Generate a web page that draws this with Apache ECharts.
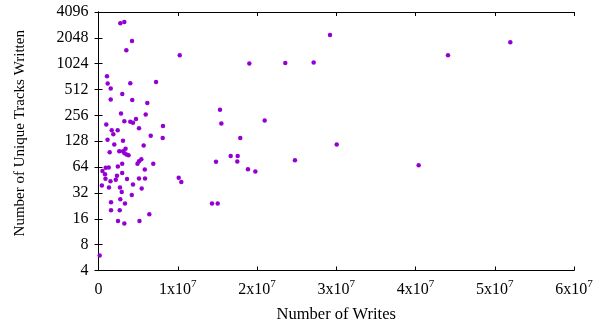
<!DOCTYPE html>
<html>
<head>
<meta charset="utf-8">
<style>
  html, body { margin: 0; padding: 0; background: #fff; }
  #chart { width: 606px; height: 326px; }
</style>
<script src="https://cdn.jsdelivr.net/npm/echarts@6/dist/echarts.min.js"></script>
</head>
<body>
<div id="chart"></div>
<script>
// Number of writes (x) and number of unique tracks written (y)
const writes = [
  2.75e6, 3.26e6, 4.23e6, 3.51e6, 10.25e6, 1.07e6, 1.16e6, 1.54e6, 4.01e6, 7.26e6,
  1.54e6, 3.00e6, 4.26e6, 6.16e6, 2.84e6, 5.96e6, 0.98e6, 3.26e6, 4.01e6, 4.35e6,
  4.73e6, 5.11e6, 8.14e6, 1.67e6, 1.87e6, 2.42e6, 6.59e6, 8.10e6, 1.14e6, 3.09e6,
  1.99e6, 5.70e6, 1.41e6, 2.62e6, 3.09e6, 3.41e6, 3.28e6, 3.53e6, 3.79e6, 5.40e6,
  5.11e6, 4.92e6, 6.91e6, 2.99e6, 2.44e6, 1.29e6, 0.91e6, 0.50e6, 0.82e6, 5.84e6,
  2.99e6, 2.33e6, 0.88e6, 1.51e6, 2.18e6, 3.60e6, 5.11e6, 5.87e6, 0.42e6, 1.32e6,
  2.71e6, 4.35e6, 5.45e6, 2.93e6, 4.20e6, 2.75e6, 1.58e6, 3.34e6, 1.58e6, 2.68e6,
  6.41e6, 2.46e6, 5.17e6, 3.26e6, 0.15e6, 10.12e6, 10.45e6, 14.83e6, 14.32e6, 15.04e6,
  15.33e6, 15.50e6, 17.89e6, 16.68e6, 17.56e6, 17.51e6, 18.86e6, 19.79e6, 20.97e6, 19.03e6,
  23.57e6, 27.15e6, 29.21e6, 24.79e6, 30.06e6, 40.40e6, 44.10e6, 51.96e6
];
const tracks = [
  3025, 3133, 1883, 1467, 1283, 731, 601, 526, 606, 627,
  392, 455, 387, 357, 269, 262, 200, 219, 216, 210,
  233, 181, 193, 172, 154, 172, 148, 140, 133, 130,
  117, 114, 95, 98, 98, 105, 93, 90, 88, 79,
  75, 70, 70, 70, 65, 63.4, 63, 57.6, 52.9, 60,
  54.7, 50.8, 46.9, 43.8, 45.6, 46.5, 47, 47, 39.1, 37.1,
  37.1, 40.1, 36.1, 32.9, 30.3, 27.0, 25.0, 24.1, 20.1, 20.1,
  18.1, 15.1, 15.1, 14.1, 6.0, 48.1, 43, 73.9, 24.1, 24.1,
  298, 206, 140, 86.4, 86.4, 74.3, 60.4, 56.8, 223, 1027,
  1044, 1055, 2212, 76.9, 117, 67.3, 1283, 1818
];
const xTicks = [0, 1e7, 2e7, 3e7, 4e7, 5e7, 6e7];
const yTicks = [4, 8, 16, 32, 64, 128, 256, 512, 1024, 2048, 4096];

const FONT = '"Liberation Serif", "Times New Roman", serif';
const chart = echarts.init(document.getElementById('chart'), null, { renderer: 'canvas' });

const tickStyle = { show: true, inside: true, length: 4, lineStyle: { color: '#000', width: 1 } };
const lineStyle = { show: true, lineStyle: { color: '#000', width: 1 } };

chart.setOption({
  animation: false,
  backgroundColor: '#fff',
  grid: { left: 98.5, right: 32, top: 12, bottom: 55.5, containLabel: false, outerBoundsMode: 'none' },
  xAxis: [
    {
      type: 'value',
      min: xTicks[0], max: xTicks[xTicks.length - 1], interval: 1e7,
      position: 'bottom',
      axisLine: lineStyle, axisTick: tickStyle, splitLine: { show: false },
      axisLabel: {
        margin: 8,
        color: '#000',
        formatter: v => v === 0 ? '{b|0}' : '{b|' + (v / 1e7) + 'x10}{s|7}',
        rich: {
          b: { fontFamily: FONT, fontSize: 16, color: '#000', lineHeight: 19, verticalAlign: 'bottom' },
          s: { fontFamily: FONT, fontSize: 11, color: '#000', lineHeight: 11, verticalAlign: 'top' }
        }
      },
      name: 'Number of Writes',
      nameLocation: 'middle',
      nameGap: 36,
      nameTextStyle: { fontFamily: FONT, fontSize: 16.5, color: '#000' }
    },
    {
      type: 'value',
      min: xTicks[0], max: xTicks[xTicks.length - 1], interval: 1e7,
      position: 'top',
      axisLine: lineStyle, axisTick: tickStyle, splitLine: { show: false },
      axisLabel: { show: false }
    }
  ],
  yAxis: [
    {
      type: 'log', logBase: 2,
      min: yTicks[0], max: yTicks[yTicks.length - 1], interval: 1,
      position: 'left',
      axisLine: lineStyle, axisTick: tickStyle, splitLine: { show: false }, minorTick: { show: false },
      axisLabel: { margin: 10, color: '#000', fontFamily: FONT, fontSize: 16, formatter: v => String(Math.round(v)) },
      name: 'Number of Unique Tracks Written',
      nameLocation: 'middle',
      nameGap: 71,
      nameTextStyle: { fontFamily: FONT, fontSize: 15, color: '#000', padding: [0, 0, 0, 16] }
    },
    {
      type: 'log', logBase: 2,
      min: yTicks[0], max: yTicks[yTicks.length - 1], interval: 1,
      position: 'right',
      axisLine: lineStyle, axisTick: tickStyle, splitLine: { show: false },
      axisLabel: { show: false }
    }
  ],
  series: [{
    type: 'scatter',
    xAxisIndex: 0, yAxisIndex: 0,
    symbol: 'circle',
    symbolSize: 4.5,
    itemStyle: { color: '#9400D3', opacity: 1 },
    data: writes.map((w, i) => [w, tracks[i]])
  }]
});
</script>
</body>
</html>
